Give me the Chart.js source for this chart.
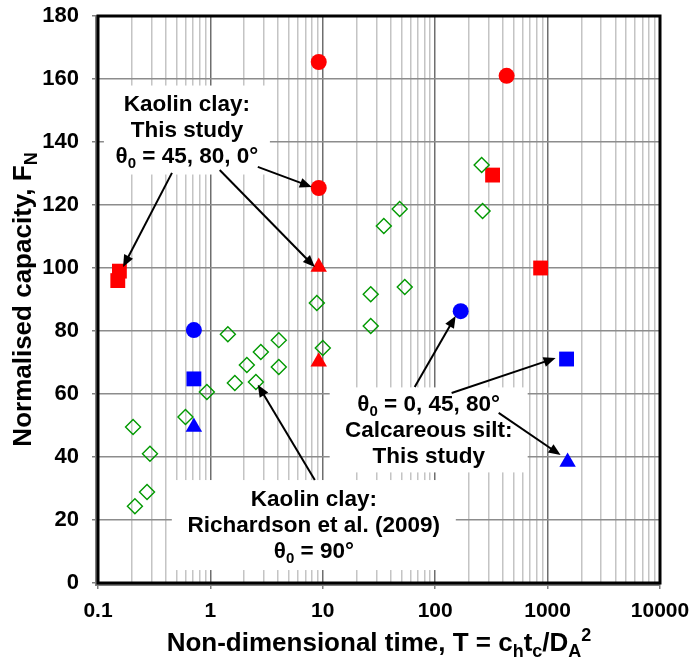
<!DOCTYPE html>
<html>
<head>
<meta charset="utf-8">
<script src="https://cdn.jsdelivr.net/npm/chart.js@4.4.0/dist/chart.umd.min.js"></script>
<style>
	html, body { margin: 0; padding: 0; background: #fff; }
</style>
</head>
<body>
<canvas id="grafico" width="692" height="660"></canvas>
<script>
// Kaolin clay, this study (red)
const kaolinCirculoT = [9.2, 9.2, 432];
const kaolinCirculoF = [165.4, 125.4, 161];
const kaolinQuadradoT = [0.155, 0.15, 324, 867];
const kaolinQuadradoF = [99, 96, 129.5, 100];
const kaolinTrianguloT = [9.2, 9.2];
const kaolinTrianguloF = [100.3, 70.2];

// Calcareous silt, this study (blue)
const siltCirculoT = [0.713, 168.6];
const siltCirculoF = [80.3, 86.3];
const siltQuadradoT = [0.713, 1475];
const siltQuadradoF = [64.8, 71.1];
const siltTrianguloT = [0.713, 1506];
const siltTrianguloF = [49.5, 38.4];

// Kaolin clay, Richardson et al. (2009) (green)
const richardsonT = [259, 264, 48.3, 34.9, 53.6, 26.7, 26.7, 8.85, 10.0, 1.43, 4.06, 2.81, 2.11, 4.06, 1.65, 2.54, 0.93, 0.6, 0.205, 0.29, 0.273, 0.213];
const richardsonF = [132.7, 118.1, 118.7, 113.3, 94, 91.7, 81.6, 88.9, 74.6, 79, 77.1, 73.3, 69.2, 68.6, 63.5, 63.8, 60.6, 52.7, 49.5, 41, 28.9, 24.4];

// Eixos
const decadas = [0.1, 1, 10, 100, 1000, 10000];
const rotulosT = ["0.1", "1", "10", "100", "1000", "10000"];
const tituloX = [["Non-dimensional time, T = c", ""], ["h", "sub"], ["t", ""], ["c", "sub"], ["/D", ""], ["A", "sub"], ["2", "sup"]];
const tituloY = [["Normalised capacity, F", ""], ["N", "sub"]];

// Caixas de texto (centro em T, F)
const caixas = [
	{
		t: 0.618, f: 143.8, largura: 166, altura: 89,
		linhas: [[["Kaolin clay:", ""]], [["This study", ""]], [["θ", ""], ["0", "sub"], [" = 45, 80, 0°", ""]]],
	},
	{
		t: 8.32, f: 18.4, largura: 284, altura: 90,
		linhas: [[["Kaolin clay:", ""]], [["Richardson et al. (2009)", ""]], [["θ", ""], ["0", "sub"], [" = 90°", ""]]],
	},
	{
		t: 87.5, f: 48.6, largura: 198, altura: 85,
		linhas: [[["θ", ""], ["0", "sub"], [" = 0, 45, 80°", ""]], [["Calcareous silt:", ""]], [["This study", ""]]],
	},
];

// Setas [T inicio, F inicio, T fim, F fim]
const setas = [
	[0.455, 130.2, 0.167, 100.3],
	[1.21, 131.1, 8.49, 100.3],
	[2.64, 132.1, 7.98, 125.7],
	[8.49, 32.7, 2.64, 62.9],
	[65.7, 62.2, 152, 84.8],
	[140, 60.3, 1178, 71.4],
	[367, 54, 1305, 40.6],
];

const FONTE = '"Liberation Sans", Arial, Helvetica, sans-serif';

function pontos(ts, fs) {
	let lista = [];
	for (let i = 0; i < ts.length; i++) {
		lista.push({ x: ts[i], y: fs[i] });
	}
	return lista;
}

function ehDecada(v) {
	return decadas.some((d) => Math.abs(v / d - 1) < 1e-6);
}

// texto com subscritos / sobrescritos, centrado em cx
function desenharTexto(ctx, partes, cx, y, tamanho) {
	const pequeno = Math.round(tamanho * 0.68);
	let total = 0;
	for (const p of partes) {
		ctx.font = `bold ${p[1] ? pequeno : tamanho}px ${FONTE}`;
		total += ctx.measureText(p[0]).width;
	}
	let x = cx - total / 2;
	ctx.textAlign = "left";
	ctx.textBaseline = "alphabetic";
	for (const p of partes) {
		ctx.font = `bold ${p[1] ? pequeno : tamanho}px ${FONTE}`;
		let dy = 0;
		if (p[1] == "sub") dy = tamanho * 0.22;
		if (p[1] == "sup") dy = -tamanho * 0.4;
		ctx.fillText(p[0], x, y + dy);
		x += ctx.measureText(p[0]).width;
	}
}

const anotacoes = {
	id: "anotacoes",
	beforeDatasetsDraw(chart) {
		const ctx = chart.ctx;
		const sx = chart.scales.x;
		const sy = chart.scales.y;
		ctx.save();
		ctx.fillStyle = "#ffffff";
		for (const c of caixas) {
			const cx = sx.getPixelForValue(c.t);
			const cy = sy.getPixelForValue(c.f);
			ctx.fillRect(cx - c.largura / 2, cy - c.altura / 2, c.largura, c.altura);
		}
		ctx.restore();
	},
	afterDatasetsDraw(chart) {
		const ctx = chart.ctx;
		const sx = chart.scales.x;
		const sy = chart.scales.y;
		const area = chart.chartArea;
		ctx.save();

		// textos das caixas
		ctx.fillStyle = "#000000";
		for (const c of caixas) {
			const cx = sx.getPixelForValue(c.t);
			const cy = sy.getPixelForValue(c.f);
			const n = c.linhas.length;
			for (let i = 0; i < n; i++) {
				const y = cy + (i - (n - 1) / 2) * 26 + 7;
				desenharTexto(ctx, c.linhas[i], cx, y, 22.5);
			}
		}

		// setas
		ctx.strokeStyle = "#000000";
		ctx.lineWidth = 2;
		for (const s of setas) {
			const x1 = sx.getPixelForValue(s[0]);
			const y1 = sy.getPixelForValue(s[1]);
			const x2 = sx.getPixelForValue(s[2]);
			const y2 = sy.getPixelForValue(s[3]);
			const ang = Math.atan2(y2 - y1, x2 - x1);
			const cab = 12;
			ctx.beginPath();
			ctx.moveTo(x1, y1);
			ctx.lineTo(x2 - Math.cos(ang) * cab * 0.8, y2 - Math.sin(ang) * cab * 0.8);
			ctx.stroke();
			ctx.beginPath();
			ctx.moveTo(x2, y2);
			ctx.lineTo(x2 - Math.cos(ang) * cab + Math.sin(ang) * 5, y2 - Math.sin(ang) * cab - Math.cos(ang) * 5);
			ctx.lineTo(x2 - Math.cos(ang) * cab - Math.sin(ang) * 5, y2 - Math.sin(ang) * cab + Math.cos(ang) * 5);
			ctx.closePath();
			ctx.fill();
		}

		// moldura
		ctx.strokeStyle = "#808080";
		ctx.lineWidth = 2;
		ctx.beginPath();
		ctx.moveTo(area.left - 2, area.top);
		ctx.lineTo(area.left - 2, area.bottom + 2);
		ctx.lineTo(area.right, area.bottom + 2);
		ctx.stroke();
		ctx.strokeStyle = "#000000";
		ctx.lineWidth = 3;
		ctx.strokeRect(area.left, area.top, area.right - area.left, area.bottom - area.top);

		// titulos dos eixos
		desenharTexto(ctx, tituloX, (area.left + area.right) / 2, 651, 26);
		ctx.translate(31, (area.top + area.bottom) / 2);
		ctx.rotate(-Math.PI / 2);
		desenharTexto(ctx, tituloY, 0, 0, 26);
		ctx.restore();
	},
};

function criarGrafico() {
	const datasets = [
		{
			data: pontos(richardsonT, richardsonF),
			pointStyle: "rectRot",
			pointRadius: 7.5,
			borderColor: "#009900",
			backgroundColor: "rgba(0,0,0,0)",
			borderWidth: 1.4,
		},
		{
			data: pontos(kaolinCirculoT, kaolinCirculoF),
			pointStyle: "circle",
			pointRadius: 8,
			borderColor: "#ff0000",
			backgroundColor: "#ff0000",
			borderWidth: 0,
		},
		{
			data: pontos(kaolinQuadradoT, kaolinQuadradoF),
			pointStyle: "rect",
			pointRadius: 10.5,
			borderColor: "#ff0000",
			backgroundColor: "#ff0000",
			borderWidth: 0,
		},
		{
			data: pontos(kaolinTrianguloT, kaolinTrianguloF),
			pointStyle: "triangle",
			pointRadius: 9.5,
			borderColor: "#ff0000",
			backgroundColor: "#ff0000",
			borderWidth: 0,
		},
		{
			data: pontos(siltCirculoT, siltCirculoF),
			pointStyle: "circle",
			pointRadius: 8,
			borderColor: "#0000ff",
			backgroundColor: "#0000ff",
			borderWidth: 0,
		},
		{
			data: pontos(siltQuadradoT, siltQuadradoF),
			pointStyle: "rect",
			pointRadius: 10.5,
			borderColor: "#0000ff",
			backgroundColor: "#0000ff",
			borderWidth: 0,
		},
		{
			data: pontos(siltTrianguloT, siltTrianguloF),
			pointStyle: "triangle",
			pointRadius: 9.5,
			borderColor: "#0000ff",
			backgroundColor: "#0000ff",
			borderWidth: 0,
		},
	];

	const config = {
		type: "scatter",
		data: { datasets: datasets },
		options: {
			responsive: false,
			animation: false,
			layout: { padding: { top: 16, right: 32, left: 0, bottom: 0 } },
			plugins: {
				legend: { display: false },
				tooltip: { enabled: false },
			},
			scales: {
				x: {
					type: "logarithmic",
					min: 0.1,
					max: 10000,
					border: { display: false },
					afterBuildTicks: (escala) => {
						let ticks = [];
						for (let d = 0; d < decadas.length - 1; d++) {
							for (let k = 1; k <= 9; k++) {
								ticks.push({ value: Number((k * decadas[d]).toPrecision(3)) });
							}
						}
						ticks.push({ value: decadas[decadas.length - 1] });
						escala.ticks = ticks;
					},
					afterFit: (escala) => {
						escala.height = 77;
						escala.paddingLeft = 0;
						escala.paddingRight = 0;
					},
					grid: {
						color: (c) => (c.tick && ehDecada(c.tick.value) ? "#6e6e6e" : "#c4c4c4"),
						lineWidth: 1.5,
						tickColor: (c) => (c.tick && ehDecada(c.tick.value) ? "#808080" : "rgba(0,0,0,0)"),
						tickLength: 6,
					},
					ticks: {
						autoSkip: false,
						maxRotation: 0,
						padding: 10,
						color: "#000000",
						font: { family: FONTE, size: 21, weight: "bold" },
						callback: (v) => {
							const i = decadas.findIndex((d) => Math.abs(v / d - 1) < 1e-6);
							return i >= 0 ? rotulosT[i] : "";
						},
					},
				},
				y: {
					min: 0,
					max: 180,
					border: { display: false },
					afterFit: (escala) => {
						escala.width = 98;
						escala.paddingTop = 0;
						escala.paddingBottom = 0;
					},
					grid: {
						color: "#8c8c8c",
						lineWidth: 1.5,
						tickColor: "#808080",
						tickLength: 6,
					},
					ticks: {
						stepSize: 20,
						padding: 13,
						color: "#000000",
						font: { family: FONTE, size: 22, weight: "bold" },
					},
				},
			},
		},
		plugins: [anotacoes],
	};

	new Chart(document.getElementById("grafico"), config);
}

criarGrafico();
</script>
</body>
</html>
